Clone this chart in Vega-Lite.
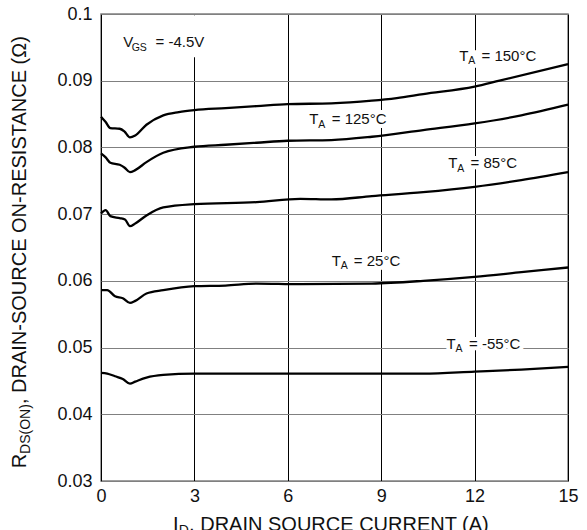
{
  "$schema": "https://vega.github.io/schema/vega-lite/v6.json",
  "width": 467,
  "height": 467,
  "autosize": {"type": "none"},
  "padding": {"left": 101, "top": 14, "right": 19, "bottom": 49},
  "background": "white",
  "config": {
    "view": {"stroke": "#808080", "strokeWidth": 1.5},
    "font": "Liberation Sans",
    "axis": {"domain": false, "ticks": false, "tickSize": 0, "labelFont": "Liberation Sans", "labelFontSize": 18, "labelColor": "#111111", "title": null, "grid": true, "gridOpacity": 1, "gridWidth": 1}
  },
  "datasets": {
    "curves": [
      {"T": "150", "x": 0, "y": 0.0846}, {"T": "150", "x": 0.15, "y": 0.0838}, {"T": "150", "x": 0.3, "y": 0.0829}, {"T": "150", "x": 0.6, "y": 0.0828}, {"T": "150", "x": 0.75, "y": 0.0824}, {"T": "150", "x": 0.93, "y": 0.0815}, {"T": "150", "x": 1.1, "y": 0.0818}, {"T": "150", "x": 1.46, "y": 0.0834}, {"T": "150", "x": 2, "y": 0.0848}, {"T": "150", "x": 2.5, "y": 0.0853}, {"T": "150", "x": 3, "y": 0.0856}, {"T": "150", "x": 4, "y": 0.0859}, {"T": "150", "x": 5, "y": 0.0862}, {"T": "150", "x": 6, "y": 0.0865}, {"T": "150", "x": 7.4, "y": 0.0866}, {"T": "150", "x": 8.7, "y": 0.087}, {"T": "150", "x": 9.5, "y": 0.0874}, {"T": "150", "x": 10.35, "y": 0.088}, {"T": "150", "x": 12, "y": 0.0891}, {"T": "150", "x": 12.8, "y": 0.09}, {"T": "150", "x": 15, "y": 0.0925},
      {"T": "125", "x": 0, "y": 0.0791}, {"T": "125", "x": 0.15, "y": 0.0785}, {"T": "125", "x": 0.3, "y": 0.0777}, {"T": "125", "x": 0.6, "y": 0.0774}, {"T": "125", "x": 0.75, "y": 0.077}, {"T": "125", "x": 0.93, "y": 0.0763}, {"T": "125", "x": 1.1, "y": 0.0766}, {"T": "125", "x": 1.46, "y": 0.0778}, {"T": "125", "x": 2, "y": 0.0792}, {"T": "125", "x": 3, "y": 0.0801}, {"T": "125", "x": 4, "y": 0.0804}, {"T": "125", "x": 5, "y": 0.0807}, {"T": "125", "x": 6, "y": 0.081}, {"T": "125", "x": 7.4, "y": 0.0811}, {"T": "125", "x": 8.7, "y": 0.0816}, {"T": "125", "x": 10.35, "y": 0.0826}, {"T": "125", "x": 12, "y": 0.0836}, {"T": "125", "x": 13.5, "y": 0.0848}, {"T": "125", "x": 15, "y": 0.0864},
      {"T": "85", "x": 0, "y": 0.0701}, {"T": "85", "x": 0.15, "y": 0.0706}, {"T": "85", "x": 0.3, "y": 0.0697}, {"T": "85", "x": 0.6, "y": 0.0694}, {"T": "85", "x": 0.77, "y": 0.0692}, {"T": "85", "x": 0.93, "y": 0.0682}, {"T": "85", "x": 1.1, "y": 0.0686}, {"T": "85", "x": 1.46, "y": 0.0698}, {"T": "85", "x": 2, "y": 0.071}, {"T": "85", "x": 3, "y": 0.0715}, {"T": "85", "x": 5, "y": 0.0718}, {"T": "85", "x": 6.4, "y": 0.0723}, {"T": "85", "x": 7.4, "y": 0.0722}, {"T": "85", "x": 8.7, "y": 0.0727}, {"T": "85", "x": 10.35, "y": 0.0733}, {"T": "85", "x": 12, "y": 0.0741}, {"T": "85", "x": 13.5, "y": 0.0751}, {"T": "85", "x": 15, "y": 0.0763},
      {"T": "25", "x": 0, "y": 0.0586}, {"T": "25", "x": 0.2, "y": 0.0586}, {"T": "25", "x": 0.45, "y": 0.0577}, {"T": "25", "x": 0.7, "y": 0.0574}, {"T": "25", "x": 0.93, "y": 0.0567}, {"T": "25", "x": 1.1, "y": 0.057}, {"T": "25", "x": 1.46, "y": 0.0581}, {"T": "25", "x": 2, "y": 0.0586}, {"T": "25", "x": 3, "y": 0.0592}, {"T": "25", "x": 4, "y": 0.0593}, {"T": "25", "x": 5, "y": 0.0596}, {"T": "25", "x": 6.4, "y": 0.0595}, {"T": "25", "x": 8.7, "y": 0.0596}, {"T": "25", "x": 10.35, "y": 0.06}, {"T": "25", "x": 12, "y": 0.0606}, {"T": "25", "x": 13.5, "y": 0.0613}, {"T": "25", "x": 15, "y": 0.062},
      {"T": "-55", "x": 0, "y": 0.0462}, {"T": "-55", "x": 0.2, "y": 0.0461}, {"T": "-55", "x": 0.45, "y": 0.0457}, {"T": "-55", "x": 0.7, "y": 0.0453}, {"T": "-55", "x": 0.93, "y": 0.0446}, {"T": "-55", "x": 1.1, "y": 0.0449}, {"T": "-55", "x": 1.46, "y": 0.0455}, {"T": "-55", "x": 2, "y": 0.0459}, {"T": "-55", "x": 3, "y": 0.0461}, {"T": "-55", "x": 6.4, "y": 0.0461}, {"T": "-55", "x": 10.35, "y": 0.0461}, {"T": "-55", "x": 12, "y": 0.0464}, {"T": "-55", "x": 13.5, "y": 0.0467}, {"T": "-55", "x": 15, "y": 0.0471}
    ],
    "boxes": [
      {"x": 0.55, "x2": 3.4, "y": 0.0998, "y2": 0.0935}
    ],
    "notes": [
      {"role": "lab", "x": 0.716, "y": 0.095, "t": "V"},
      {"role": "sub", "x": 0.986, "y": 0.0945, "t": "GS"},
      {"role": "lab", "x": 1.75, "y": 0.095, "t": "= -4.5V"},
      {"role": "lab", "x": 11.51, "y": 0.093, "t": "T"},
      {"role": "sub", "x": 11.8, "y": 0.0925, "t": "A"},
      {"role": "lab", "x": 12.22, "y": 0.093, "t": "= 150°C"},
      {"role": "lab", "x": 6.69, "y": 0.08346, "t": "T"},
      {"role": "sub", "x": 6.98, "y": 0.08296, "t": "A"},
      {"role": "lab", "x": 7.41, "y": 0.08346, "t": "= 125°C"},
      {"role": "lab", "x": 11.155, "y": 0.07686, "t": "T"},
      {"role": "sub", "x": 11.445, "y": 0.07636, "t": "A"},
      {"role": "lab", "x": 11.87, "y": 0.07686, "t": "= 85°C"},
      {"role": "lab", "x": 7.41, "y": 0.06225, "t": "T"},
      {"role": "sub", "x": 7.7, "y": 0.06175, "t": "A"},
      {"role": "lab", "x": 8.12, "y": 0.06225, "t": "= 25°C"},
      {"role": "lab", "x": 11.1, "y": 0.04986, "t": "T"},
      {"role": "sub", "x": 11.39, "y": 0.04936, "t": "A"},
      {"role": "lab", "x": 11.82, "y": 0.04986, "t": "= -55°C"},
      {"role": "xt", "x": 2.31, "y": 0.02245, "t": "I"},
      {"role": "xts", "x": 2.5, "y": 0.02185, "t": "D"},
      {"role": "xt", "x": 2.83, "y": 0.02245, "t": ", DRAIN SOURCE CURRENT (A)"},
      {"role": "yt", "x": -2.425, "y": 0.0319, "t": "R"},
      {"role": "yts", "x": -2.28, "y": 0.03406, "t": "DS(ON)"},
      {"role": "yt", "x": -2.425, "y": 0.04153, "t": ", DRAIN-SOURCE ON-RESISTANCE (Ω)"}
    ]
  },
  "layer": [
    {
      "data": {"name": "boxes"},
      "mark": {"type": "rect", "color": "white"},
      "encoding": {
        "x": {"field": "x", "type": "quantitative", "scale": {"domain": [0, 15], "nice": false, "zero": false}, "axis": {"values": [0, 3, 6, 9, 12, 15], "gridColor": "#000000", "labelPadding": 6, "labelFlush": false}},
        "x2": {"field": "x2"},
        "y": {"field": "y", "type": "quantitative", "scale": {"domain": [0.03, 0.1], "nice": false, "zero": false}, "axis": {"values": [0.03, 0.04, 0.05, 0.06, 0.07, 0.08, 0.09, 0.1], "format": ".2~f", "gridColor": "#808080", "labelPadding": 9, "labelFlush": false}},
        "y2": {"field": "y2"}
      }
    },
    {
      "data": {"name": "curves"},
      "mark": {"type": "line", "color": "black", "strokeWidth": 2.3, "interpolate": "monotone"},
      "encoding": {
        "x": {"field": "x", "type": "quantitative"},
        "y": {"field": "y", "type": "quantitative"},
        "detail": {"field": "T"}
      }
    },
    {
      "data": {"name": "notes"},
      "transform": [{"filter": "datum.role === 'lab' || datum.role === 'sub'"}],
      "mark": {"type": "text", "align": "left", "baseline": "alphabetic", "fontSize": 15, "fill": "white", "stroke": "white", "strokeWidth": 8, "strokeJoin": "round"},
      "encoding": {"x": {"field": "x", "type": "quantitative"}, "y": {"field": "y", "type": "quantitative"}, "text": {"field": "t"}}
    },
    {
      "data": {"name": "notes"},
      "transform": [{"filter": "datum.role === 'lab'"}],
      "mark": {"type": "text", "align": "left", "baseline": "alphabetic", "fontSize": 15, "color": "#111111"},
      "encoding": {"x": {"field": "x", "type": "quantitative"}, "y": {"field": "y", "type": "quantitative"}, "text": {"field": "t"}}
    },
    {
      "data": {"name": "notes"},
      "transform": [{"filter": "datum.role === 'sub'"}],
      "mark": {"type": "text", "align": "left", "baseline": "alphabetic", "fontSize": 10.5, "color": "#111111"},
      "encoding": {"x": {"field": "x", "type": "quantitative"}, "y": {"field": "y", "type": "quantitative"}, "text": {"field": "t"}}
    },
    {
      "data": {"name": "notes"},
      "transform": [{"filter": "datum.role === 'xt'"}],
      "mark": {"type": "text", "align": "left", "baseline": "alphabetic", "fontSize": 20, "color": "#111111"},
      "encoding": {"x": {"field": "x", "type": "quantitative"}, "y": {"field": "y", "type": "quantitative"}, "text": {"field": "t"}}
    },
    {
      "data": {"name": "notes"},
      "transform": [{"filter": "datum.role === 'xts'"}],
      "mark": {"type": "text", "align": "left", "baseline": "alphabetic", "fontSize": 14, "color": "#111111"},
      "encoding": {"x": {"field": "x", "type": "quantitative"}, "y": {"field": "y", "type": "quantitative"}, "text": {"field": "t"}}
    },
    {
      "data": {"name": "notes"},
      "transform": [{"filter": "datum.role === 'yt'"}],
      "mark": {"type": "text", "align": "left", "baseline": "alphabetic", "angle": 270, "fontSize": 20, "color": "#111111"},
      "encoding": {"x": {"field": "x", "type": "quantitative"}, "y": {"field": "y", "type": "quantitative"}, "text": {"field": "t"}}
    },
    {
      "data": {"name": "notes"},
      "transform": [{"filter": "datum.role === 'yts'"}],
      "mark": {"type": "text", "align": "left", "baseline": "alphabetic", "angle": 270, "fontSize": 14, "color": "#111111"},
      "encoding": {"x": {"field": "x", "type": "quantitative"}, "y": {"field": "y", "type": "quantitative"}, "text": {"field": "t"}}
    }
  ]
}
